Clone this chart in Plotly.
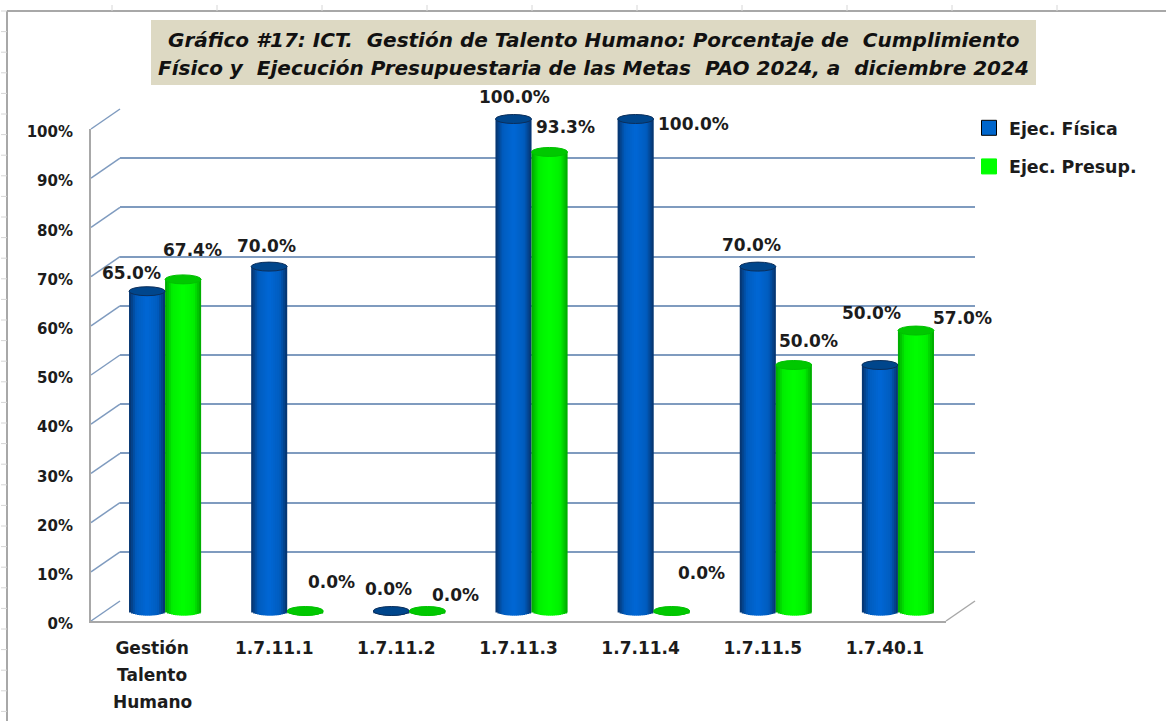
import math
import plotly.graph_objects as go

# ---- data ----
categories = ["Gestión", "1.7.11.1", "1.7.11.2", "1.7.11.3", "1.7.11.4", "1.7.11.5", "1.7.40.1"]
category_extra_lines = ["Talento", "Humano"]
ejec_fisica = [65.0, 70.0, 0.0, 100.0, 100.0, 70.0, 50.0]
ejec_presup = [67.4, 0.0, 0.0, 93.3, 0.0, 50.0, 57.0]
y_ticks = [0, 10, 20, 30, 40, 50, 60, 70, 80, 90, 100]
y_tick_labels = ["0%", "10%", "20%", "30%", "40%", "50%", "60%", "70%", "80%", "90%", "100%"]
title_lines = ["Gráfico #17: ICT.\u00a0 Gestión de Talento Humano: Porcentaje de\u00a0 Cumplimiento",
               "Físico y\u00a0 Ejecución Presupuestaria de las Metas\u00a0 PAO 2024, a\u00a0 diciembre 2024"]

# ---- label nudges in pixels, relative to each bar top ----
fisica_label_dx = [-16, -3, -3, 1, 58, -6, -8]
fisica_label_dy = [-18, -21, -22, -22, 5, -22, -52]
presup_label_dx = [9, 26, 28, 16, 30, 15, 47]
presup_label_dy = [-29, -29, -16, -25, -38, -24, -13]

W, H = 1166, 721
FONT = "DejaVu Sans"
TEXT = "#1c1c1c"
GRID = "#7F9BBF"
FRAME = "#A8A8A8"
SHEET = "#D6D6D6"


def px(x):
    return x / W


def py(y):
    return 1 - y / H


def mix(a, b, t):
    return tuple(a[i] + (b[i] - a[i]) * t for i in range(3))


def cyl_color(u, edge, mid, center):
    a = abs(u)
    c = mix(center, mid, a / 0.6) if a < 0.6 else mix(mid, edge, (a - 0.6) / 0.4)
    return "rgb(%d,%d,%d)" % c


# pixel geometry of the three axis planes
UNIT = 122.0            # px per category
PCT = 4.92              # px per percentage point
BAR_W = 36.0
fig = go.Figure()

# back wall (gridlines)
back = dict(range=[-0.5, 6.5], domain=[px(120), px(975)], visible=False, fixedrange=True, automargin=False)
back_y = dict(range=[0, 100], domain=[py(601), py(109)], showgrid=True, gridcolor=GRID, gridwidth=2,
              tickvals=y_ticks, showticklabels=False, ticks="", zeroline=False, showline=False,
              anchor="x", fixedrange=True, automargin=False)
# front plane (tick labels)
front = dict(range=[-0.5, 6.5], domain=[px(91), px(946)], tickvals=list(range(7)), ticktext=categories,
             showgrid=False, zeroline=False, showline=True, linecolor=FRAME, linewidth=2, ticks="outside",
             ticklen=11, tickcolor="rgba(0,0,0,0)", tickfont=dict(family=FONT, size=17, color=TEXT, weight="bold"),
             anchor="y2", fixedrange=True, automargin=False)
front_y = dict(range=[0, 100], domain=[py(621), py(129)], tickvals=y_ticks, ticktext=y_tick_labels,
               showgrid=False, zeroline=False, showline=True, linecolor=FRAME, linewidth=2, ticks="outside",
               ticklen=13, tickcolor="rgba(0,0,0,0)", tickfont=dict(family=FONT, size=15, color=TEXT, weight="bold"),
               ticklabelshift=3, anchor="x2", fixedrange=True, automargin=False)
# bar plane
bar_x = dict(range=[-0.5, 6.5], domain=[px(104), px(959)], visible=False, anchor="y3", fixedrange=True,
             automargin=False)
bar_y = dict(range=[-4, 104], domain=[py(611 + 4 * PCT), py(611 - 104 * PCT)], visible=False, anchor="x3",
             fixedrange=True, automargin=False)

xs = list(range(len(categories)))
fig.add_trace(go.Scatter(x=xs, y=[None] * 7, xaxis="x", yaxis="y", showlegend=False, hoverinfo="skip"))
fig.add_trace(go.Scatter(x=xs, y=[None] * 7, xaxis="x2", yaxis="y2", showlegend=False, hoverinfo="skip"))

N = 18
RX = BAR_W / 2 / UNIT
RY_BASE = 4.5 / PCT
series = [
    ("Ejec. Física", ejec_fisica, -RX, (8, 50, 105), (0, 92, 190), (0, 104, 214), "#00468C", "#0B2E5A", "#0066CC", "#000000"),
    ("Ejec. Presup.", ejec_presup, RX, (0, 165, 0), (0, 240, 0), (0, 255, 0), "#00C800", "#00C000", "#00FF00", "#00FF00"),
]
shapes = [dict(type="rect", xref="paper", yref="paper", layer="below",
               x0=px(151), x1=px(1036), y0=py(85), y1=py(20), fillcolor="#DDD9C3", line=dict(width=0))]
for name, vals, off, edge, mid, center, cap, capline, swatch, swline in series:
    for k in range(N):
        u = -1 + (k + 0.5) * 2 / N
        base = -RY_BASE * math.sqrt(max(0.0, 1 - u * u))
        left = off - RX + k * 2 * RX / N
        stretch = 1.8 if k < N - 1 else 1.0
        fig.add_trace(go.Bar(
            x=xs, y=[v - base for v in vals], base=[base] * 7,
            width=2 * RX / N * stretch, offset=left,
            marker=dict(color=cyl_color(u, edge, mid, center), line=dict(width=0)),
            xaxis="x3", yaxis="y3", showlegend=False, hoverinfo="skip"))
    for i, v in enumerate(vals):
        shapes.append(dict(type="circle", xref="x3", yref="y3", layer="above",
                           x0=i + off - RX, x1=i + off + RX,
                           y0=v - 4.5 / PCT, y1=v + 4.5 / PCT,
                           fillcolor=cap, line=dict(color=capline, width=1)))
    fig.add_trace(go.Scatter(x=[None], y=[None], mode="markers", name=name, legendgroup=name,
                             marker=dict(symbol="square", size=15, color=swatch, line=dict(color=swline, width=1)),
                             xaxis="x3", yaxis="y3"))

# perspective connectors of the wall and floor
for t in y_ticks:
    fy = 621 - t * PCT
    shapes.append(dict(type="line", xref="paper", yref="paper", layer="below",
                       x0=px(91), x1=px(120), y0=py(fy), y1=py(fy - 20),
                       line=dict(color=GRID, width=1.5)))
shapes.append(dict(type="line", xref="paper", yref="paper", layer="below",
                   x0=px(946), x1=px(975), y0=py(621), y1=py(601), line=dict(color=FRAME, width=1.5)))

# spreadsheet frame behind the chart
shapes.append(dict(type="line", xref="paper", yref="paper", layer="below",
                   x0=px(7), x1=1, y0=py(11), y1=py(11), line=dict(color=FRAME, width=2)))
shapes.append(dict(type="line", xref="paper", yref="paper", layer="below",
                   x0=px(7), x1=px(7), y0=py(11), y1=0, line=dict(color=FRAME, width=2)))
for i in range(11):
    xt = 7 + 105 * i
    if xt > 100:
        shapes.append(dict(type="line", xref="paper", yref="paper", layer="below",
                           x0=px(xt), x1=px(xt), y0=py(5), y1=py(11), line=dict(color=SHEET, width=1)))
for i in range(35):
    yt = 11 + 20.6 * i
    shapes.append(dict(type="line", xref="paper", yref="paper", layer="below",
                       x0=px(1), x1=px(7), y0=py(yt), y1=py(yt), line=dict(color=SHEET, width=1)))

annotations = []
for line, y_px in zip(title_lines, (40, 68)):
    annotations.append(dict(
        xref="paper", yref="paper", x=px(593.5), y=py(y_px), xanchor="center", yanchor="middle",
        text=line, showarrow=False,
        font=dict(family=FONT, size=20, color="#111111", weight="bold", style="italic")))

for vals, off, dxs, dys in ((ejec_fisica, -RX, fisica_label_dx, fisica_label_dy),
                            (ejec_presup, RX, presup_label_dx, presup_label_dy)):
    for i, v in enumerate(vals):
        annotations.append(dict(
            xref="x3", yref="y3", x=i + off, y=v, xshift=dxs[i], yshift=-dys[i],
            text=f"{v:.1f}%", showarrow=False, xanchor="center", yanchor="middle",
            font=dict(family=FONT, size=17, color=TEXT, weight="bold")))

for line, y_px in zip(category_extra_lines, (675, 702)):
    annotations.append(dict(
        xref="x2", yref="paper", x=0, y=py(y_px), text=line, showarrow=False,
        xanchor="center", yanchor="middle",
        font=dict(family=FONT, size=17, color=TEXT, weight="bold")))

fig.update_layout(
    width=W, height=H, autosize=False,
    margin=dict(l=0, r=0, t=0, b=0, autoexpand=False),
    paper_bgcolor="white", plot_bgcolor="rgba(0,0,0,0)",
    barmode="overlay",
    xaxis=back, yaxis=back_y, xaxis2=front, yaxis2=front_y, xaxis3=bar_x, yaxis3=bar_y,
    shapes=shapes, annotations=annotations,
    showlegend=True,
    legend=dict(x=px(969), y=py(110), xanchor="left", yanchor="top", bgcolor="rgba(0,0,0,0)",
                tracegroupgap=13, font=dict(family=FONT, size=17.4, color=TEXT, weight="bold")),
)

fig.write_html("out.html", post_script="document.body.style.margin='0';document.body.style.overflow='hidden';",
               config=dict(displayModeBar=False))
